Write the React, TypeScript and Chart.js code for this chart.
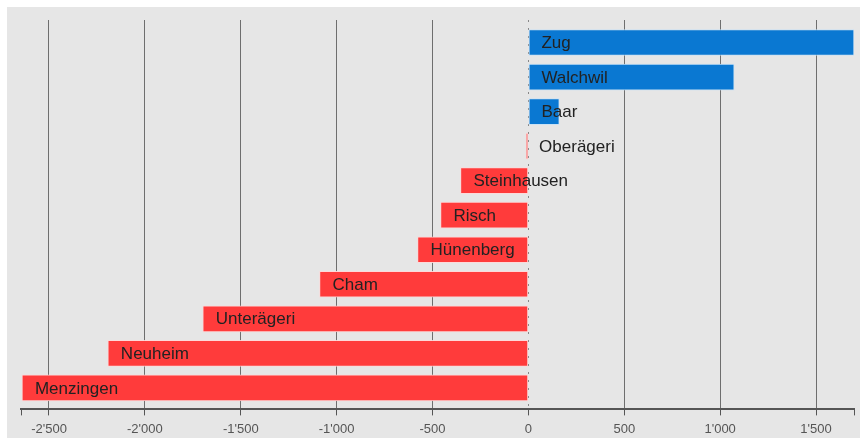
import React, { useEffect, useRef } from "react";
import { Chart, registerables } from "chart.js";

Chart.register(...registerables);

const municipalities = [
  "Zug",
  "Walchwil",
  "Baar",
  "Oberägeri",
  "Steinhausen",
  "Risch",
  "Hünenberg",
  "Cham",
  "Unterägeri",
  "Neuheim",
  "Menzingen",
];
const values = [1698, 1073, 161, -12, -354, -458, -578, -1089, -1698, -2193, -2641];
const positions = [0, 1, 2, 3, 4, 5, 6, 7, 8, 9, 10];
const tickValues = [-2500, -2000, -1500, -1000, -500, 0, 500, 1000, 1500];
const xMin = -2646;
const xMax = 1698;

const POS = "#0a78d2";
const NEG = "#ff3b3b";

function fmt(v: number): string {
  const s = Math.abs(v).toString();
  const body = s.length > 3 ? s.slice(0, s.length - 3) + "'" + s.slice(-3) : s;
  return (v < 0 ? "-" : "") + body;
}

const bgPlugin = {
  id: "bg",
  beforeDraw(chart: any) {
    const ctx = chart.ctx;
    ctx.save();
    ctx.fillStyle = "#e6e6e6";
    ctx.fillRect(0, 0, chart.width, chart.height);
    ctx.restore();
  },
};

const zeroLinePlugin = {
  id: "zeroLine",
  beforeDatasetsDraw(chart: any) {
    const ctx = chart.ctx;
    const x = Math.round(chart.scales.x.getPixelForValue(0)) + 0.5;
    const a = chart.chartArea;
    ctx.save();
    ctx.strokeStyle = "#888";
    ctx.lineWidth = 1;
    ctx.setLineDash([2, 6]);
    ctx.beginPath();
    ctx.moveTo(x, a.top);
    ctx.lineTo(x, a.bottom);
    ctx.stroke();
    ctx.restore();
  },
};

const labelPlugin = {
  id: "barLabels",
  afterDatasetsDraw(chart: any) {
    const ctx = chart.ctx;
    const xs = chart.scales.x;
    const ys = chart.scales.y;
    ctx.save();
    ctx.font = "17px 'Liberation Sans', Arial, sans-serif";
    ctx.fillStyle = "#222";
    ctx.textBaseline = "middle";
    ctx.textAlign = "left";
    values.forEach((v, i) => {
      const x0 = xs.getPixelForValue(Math.min(0, v));
      const y = ys.getPixelForValue(positions[i]);
      ctx.fillText(municipalities[i], x0 + 13, y + 1);
    });
    ctx.restore();
  },
};

export default function App() {
  const ref = useRef<HTMLCanvasElement>(null);

  useEffect(() => {
    if (!ref.current) return;
    const chart = new Chart(ref.current, {
      type: "bar",
      data: {
        labels: municipalities,
        datasets: [
          {
            data: values.map((v, i) => ({ x: v, y: positions[i] })) as any,
            backgroundColor: values.map((v) => (v >= 0 ? POS : NEG)),
            borderColor: values.map((v) =>
              v >= 0 ? "rgba(200,225,245,0.9)" : "rgba(255,215,215,0.9)"
            ),
            borderWidth: 1,
            borderSkipped: false,
            barThickness: 26,
          },
        ],
      },
      options: {
        indexAxis: "y",
        animation: false,
        responsive: false,
        maintainAspectRatio: false,
        layout: { padding: { left: 14, right: 5, top: 13, bottom: 4 } },
        plugins: {
          legend: { display: false },
          tooltip: { enabled: false },
        },
        scales: {
          y: {
            type: "linear",
            reverse: true,
            offset: false,
            min: -0.652,
            max: 10.623,
            display: false,
          },
          x: {
            type: "linear",
            min: xMin,
            max: xMax,
            afterBuildTicks: (scale: any) => {
              scale.ticks = [xMin, ...tickValues, xMax].map((v) => ({ value: v }));
            },
            grid: {
              color: (c: any) => {
                const v = c.tick ? c.tick.value : null;
                if (v === null || v === 0 || v === xMin || v === xMax) return "rgba(0,0,0,0)";
                return "#6e6e6e";
              },
              tickColor: "#555",
              tickLength: 6,
              lineWidth: 1,
            },
            border: { display: true, color: "#555", width: 2 },
            ticks: {
              autoSkip: false,
              maxRotation: 0,
              padding: 6,
              color: "#555",
              font: { family: "'Liberation Sans', Arial, sans-serif", size: 13 },
              callback: (v: any) => {
                const n = Number(v);
                if (n === xMin || n === xMax) return "";
                return fmt(n);
              },
            },
          },
        },
      },
      plugins: [bgPlugin, zeroLinePlugin, labelPlugin],
    });
    return () => chart.destroy();
  }, []);

  return (
    <div
      style={{
        position: "fixed",
        left: 0,
        top: 0,
        width: 860,
        height: 438,
        background: "#fff",
        overflow: "hidden",
      }}
    >
      <canvas
        ref={ref}
        width={853}
        height={440}
        style={{ position: "absolute", left: 7, top: 7, width: 853, height: 440 }}
      />
    </div>
  );
}
